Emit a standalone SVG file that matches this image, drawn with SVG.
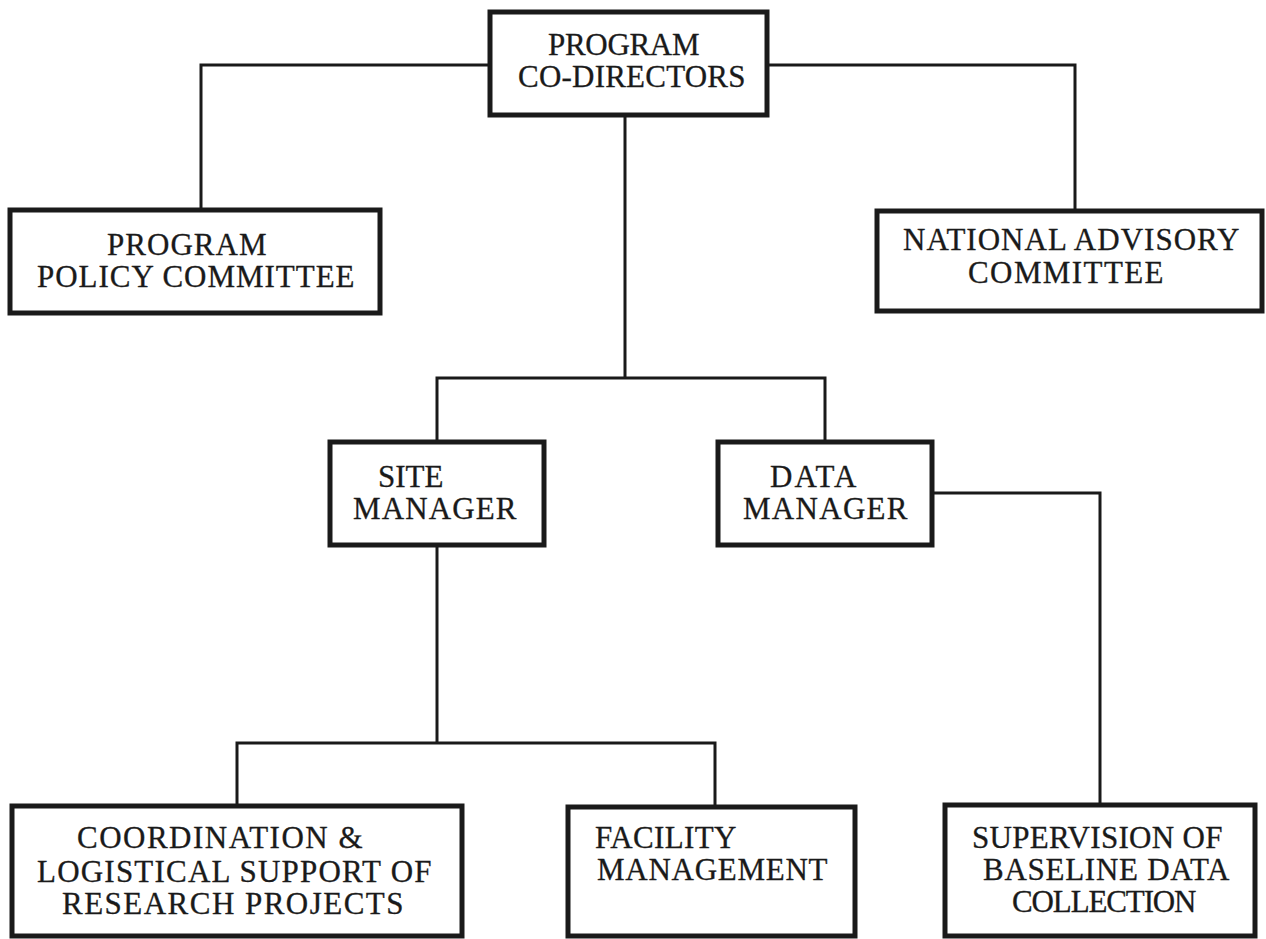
<svg xmlns="http://www.w3.org/2000/svg" width="1266" height="939" viewBox="0 0 1266 939">
<style>
.box{fill:#fff;stroke:#1a1a1a;stroke-width:5}
.ln{fill:none;stroke:#1a1a1a;stroke-width:3}
text{font-family:"Liberation Serif","Times New Roman",serif;font-size:31px;fill:#1a1a1a;stroke:#1a1a1a;stroke-width:0.3;letter-spacing:0.5px}
</style>
<rect width="1266" height="939" fill="#fff"/>
<g id="connectors">
<polyline class="ln" points="490,65 201,65 201,210"/>
<polyline class="ln" points="767,65 1075,65 1075,211"/>
<line class="ln" x1="625" y1="115" x2="625" y2="378"/>
<polyline class="ln" points="437,442 437,378 825,378 825,442"/>
<polyline class="ln" points="932,493 1100,493 1100,805"/>
<line class="ln" x1="437" y1="545" x2="437" y2="743"/>
<polyline class="ln" points="237,805 237,743 715,743 715,806"/>
</g>
<g id="program-co-directors">
<rect class="box" x="490" y="12" width="277" height="103"/>
<text x="548" y="55" textLength="152">PROGRAM</text>
<text x="518" y="87" textLength="228">CO-DIRECTORS</text>
</g>
<g id="program-policy-committee">
<rect class="box" x="10" y="210" width="370" height="103"/>
<text x="107" y="255" textLength="160">PROGRAM</text>
<text x="37" y="287" textLength="318">POLICY COMMITTEE</text>
</g>
<g id="national-advisory-committee">
<rect class="box" x="877" y="211" width="385" height="100"/>
<text x="903" y="250" textLength="337">NATIONAL ADVISORY</text>
<text x="968" y="283" textLength="196">COMMITTEE</text>
</g>
<g id="site-manager">
<rect class="box" x="330" y="442" width="214" height="103"/>
<text x="378" y="487" textLength="66">SITE</text>
<text x="353" y="519" textLength="164">MANAGER</text>
</g>
<g id="data-manager">
<rect class="box" x="718" y="442" width="214" height="103"/>
<text x="770" y="487" textLength="87">DATA</text>
<text x="743" y="519" textLength="165">MANAGER</text>
</g>
<g id="coordination">
<rect class="box" x="12" y="806" width="450" height="130"/>
<text x="77" y="848" textLength="286">COORDINATION &amp;</text>
<text x="37" y="882" textLength="395">LOGISTICAL SUPPORT OF</text>
<text x="62" y="914" textLength="342">RESEARCH PROJECTS</text>
</g>
<g id="facility-management">
<rect class="box" x="568" y="807" width="287" height="129"/>
<text x="595" y="848" textLength="142">FACILITY</text>
<text x="597" y="880" textLength="231">MANAGEMENT</text>
</g>
<g id="supervision">
<rect class="box" x="945" y="805" width="310" height="131"/>
<text x="972" y="848" textLength="251">SUPERVISION OF</text>
<text x="983" y="880" textLength="247">BASELINE DATA</text>
<text x="1012" y="912" textLength="185">COLLECTION</text>
</g>
</svg>
